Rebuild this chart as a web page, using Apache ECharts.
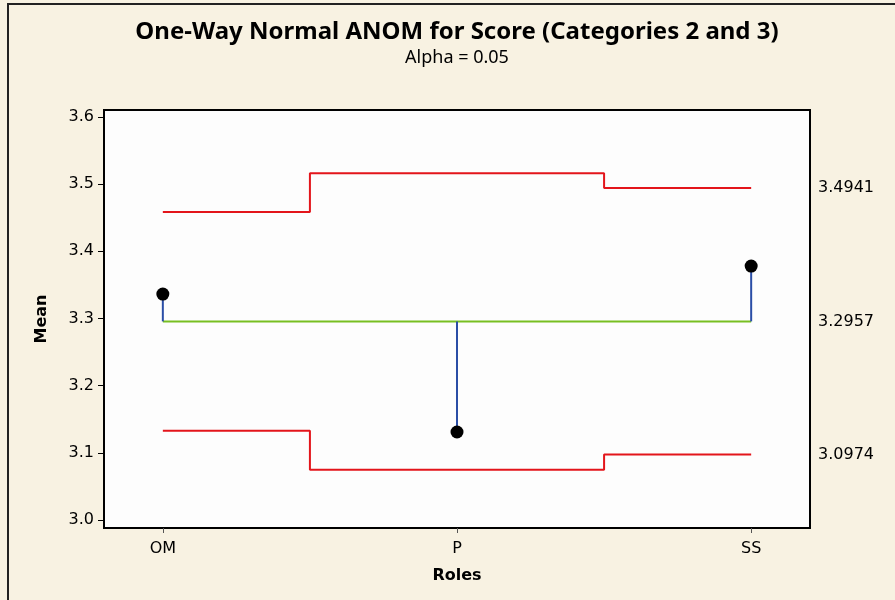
<!DOCTYPE html>
<html>
<head>
<meta charset="utf-8">
<script src="https://cdn.jsdelivr.net/npm/echarts@6/dist/echarts.min.js"></script>
<style>
  html, body { margin: 0; padding: 0; background: #f8f2e2; }
  #chart { width: 895px; height: 600px; }
</style>
</head>
<body>
<div id="chart"></div>
<script>
// Roles (x positions 0, 1, 2)
const roles = ['OM', 'P', 'SS'];
// Group means
const means = [3.3363, 3.131, 3.378];
// Decision limits per group
const upperLimits = [3.4584, 3.5164, 3.4941];
const lowerLimits = [3.133, 3.075, 3.0974];
// Overall mean
const centerLine = 3.2957;
// Tick labels
const yTicks = [3.0, 3.1, 3.2, 3.3, 3.4, 3.5, 3.6];
const rightLabels = [lowerLimits[2], centerLine, upperLimits[2]];

const font = 'DejaVu Sans';
const chart = echarts.init(document.getElementById('chart'));

const stemSeries = roles.map((r, i) => ({
  type: 'line',
  data: [[i, centerLine], [i, means[i]]],
  symbol: 'none',
  lineStyle: { color: '#2b4ea6', width: 2 },
  z: 3,
  silent: true
}));

chart.setOption({
  backgroundColor: '#f8f2e2',
  animation: false,
  graphic: [
    { type: 'rect', shape: { x: 8, y: 4, width: 900, height: 610 },
      style: { fill: 'none', stroke: '#222', lineWidth: 2 }, z: 100 },
    { type: 'text', x: 457, y: 20,
      style: { text: 'One-Way Normal ANOM for Score (Categories 2 and 3)', textAlign: 'center',
               font: 'bold 24px "Noto Sans"', fill: '#000' } },
    { type: 'text', x: 457, y: 49,
      style: { text: 'Alpha = 0.05', textAlign: 'center',
               font: '18px "Noto Sans"', fill: '#000' } }
  ],
  grid: {
    left: 104, top: 110, width: 706, height: 418,
    show: true, backgroundColor: '#fdfdfd', borderColor: '#000', borderWidth: 2
  },
  xAxis: {
    type: 'value', min: -0.2, max: 2.2,
    name: 'Roles', nameLocation: 'middle', nameGap: 40,
    nameTextStyle: { fontFamily: font, fontWeight: 'bold', fontSize: 16, color: '#000' },
    axisLine: { show: false, onZero: false },
    splitLine: { show: false },
    axisTick: { show: true, customValues: [0, 1, 2], length: 5, lineStyle: { color: '#555' } },
    axisLabel: { customValues: [0, 1, 2], formatter: v => roles[Math.round(v)] || '',
                 fontFamily: font, fontSize: 16, color: '#000', margin: 13 }
  },
  yAxis: [{
    type: 'value', min: 2.9881, max: 3.6104,
    name: 'Mean', nameLocation: 'middle', nameGap: 54, nameRotate: 90,
    nameTextStyle: { fontFamily: font, fontWeight: 'bold', fontSize: 16, color: '#000' },
    axisLine: { show: false, onZero: false },
    splitLine: { show: false },
    axisTick: { show: true, customValues: yTicks, length: 6, lineStyle: { color: '#000' } },
    axisLabel: { customValues: yTicks, formatter: v => v.toFixed(1),
                 fontFamily: font, fontSize: 16, color: '#000', margin: 10 }
  }, {
    type: 'value', min: 2.9881, max: 3.6104, position: 'right',
    axisLine: { show: false, onZero: false }, splitLine: { show: false },
    axisTick: { show: false },
    axisLabel: { customValues: rightLabels, formatter: v => v.toFixed(4),
                 fontFamily: font, fontSize: 16, color: '#000', margin: 8 }
  }],
  series: [
    {
      type: 'line', step: 'middle', symbol: 'none',
      data: upperLimits.map((v, i) => [i, v]),
      lineStyle: { color: '#e3151b', width: 2 }, z: 2, silent: true
    },
    {
      type: 'line', step: 'middle', symbol: 'none',
      data: lowerLimits.map((v, i) => [i, v]),
      lineStyle: { color: '#e3151b', width: 2 }, z: 2, silent: true
    },
    {
      type: 'line', symbol: 'none',
      data: [[0, centerLine], [roles.length - 1, centerLine]],
      lineStyle: { color: '#78bf22', width: 2 }, z: 2, silent: true
    },
    ...stemSeries,
    {
      type: 'scatter',
      data: means.map((v, i) => [i, v]),
      symbolSize: 13, itemStyle: { color: '#000', opacity: 1 }, z: 4
    }
  ]
});
</script>
</body>
</html>
